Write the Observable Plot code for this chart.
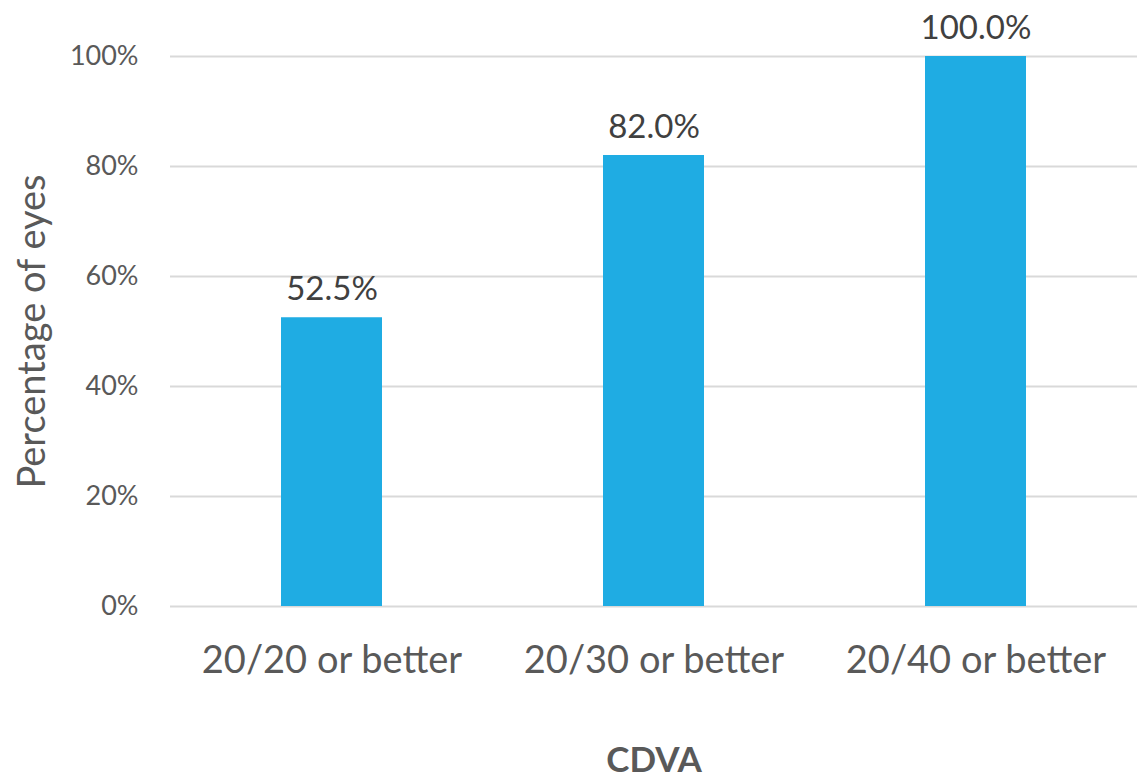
<!DOCTYPE html>
<html>
<head>
<meta charset="utf-8">
<script src="https://cdn.jsdelivr.net/npm/d3@7"></script>
<script src="https://cdn.jsdelivr.net/npm/@observablehq/plot@0.6"></script>
<style>
  html, body { margin: 0; padding: 0; background: #fff; }
  #chart svg { display: block; }
</style>
</head>
<body>
<div id="chart"></div>
<script>
const categories = ["20/20 or better", "20/30 or better", "20/40 or better"];
const percentages = [52.5, 82.0, 100.0];
const yTicks = [0, 20, 40, 60, 80, 100];
const yTitle = "Percentage of eyes";
const xTitle = "CDVA";

const data = categories.map((c, i) => ({category: c, value: percentages[i]}));
const textColor = "#595959";
const font = "Lato, 'Open Sans', sans-serif";

const chart = Plot.plot({
  width: 1144,
  height: 777,
  marginLeft: 170,
  marginRight: 7,
  marginTop: 56,
  marginBottom: 171,
  style: {fontFamily: font, color: textColor, background: "#fff"},
  x: {domain: categories, paddingInner: 0.686, paddingOuter: 0.343, label: null},
  y: {domain: [0, 100], label: null},
  marks: [
    Plot.gridY(yTicks, {stroke: "#d9d9d9", strokeOpacity: 1, strokeWidth: 2}),
    Plot.barY(data, {x: "category", y: "value", fill: "#1FACE3"}),
    Plot.text(data, {
      x: "category", y: "value",
      text: d => d.value.toFixed(1) + "%",
      textAnchor: "middle", lineAnchor: "bottom", dy: -18,
      fontSize: 33, fill: "#404040"
    }),
    Plot.axisY(yTicks, {
      tickSize: 0, tickPadding: 32,
      tickFormat: d => d + "%",
      fontSize: 27, fill: textColor,
      label: yTitle, labelAnchor: "center", labelOffset: 152, labelArrow: "none"
    }),
    Plot.axisX({
      tickSize: 0, tickPadding: 40, fontSize: 38, fill: textColor, label: null
    }),
    Plot.text([xTitle], {
      text: d => d, frameAnchor: "bottom", dy: 165,
      fontSize: 35, fontWeight: "bold", fill: textColor
    })
  ]
});

chart.querySelectorAll("[aria-label='y-axis label'] text, [aria-label='y-axis label']").forEach(el => {
  el.setAttribute("font-size", 38);
});
document.getElementById("chart").appendChild(chart);
</script>
</body>
</html>
